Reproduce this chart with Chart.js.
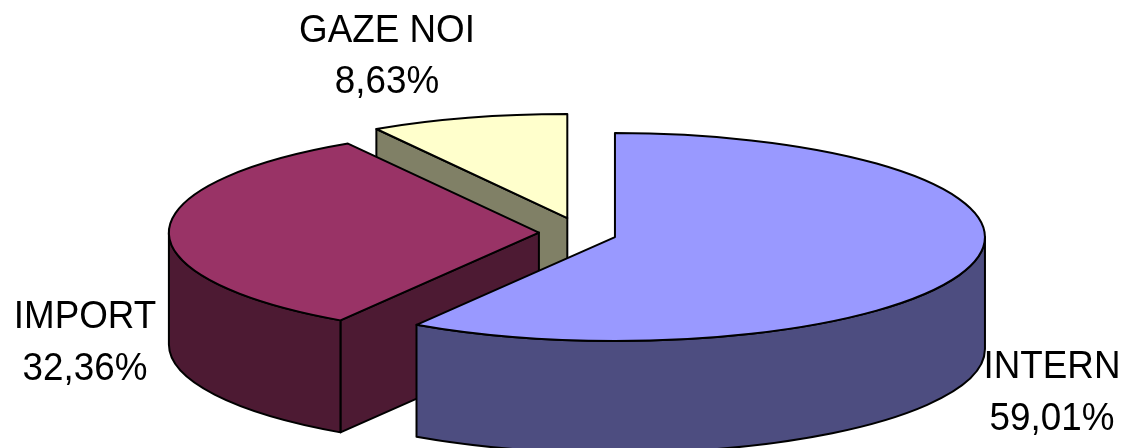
<!DOCTYPE html>
<html>
<head>
<meta charset="utf-8">
<style>
html,body{margin:0;padding:0;background:#fff;}
#wrap{position:relative;width:1123px;height:448px;overflow:hidden;}
</style>
<script src="https://cdn.jsdelivr.net/npm/chart.js@4"></script>
</head>
<body>
<div id="wrap"><canvas id="c"></canvas></div>
<script>
const categories = ['INTERN', 'IMPORT', 'GAZE NOI'];
const shares = [59.01, 32.36, 8.63];
const topColors = ['#9999FF', '#993366', '#FFFFCC'];
const wallColors = ['#4D4D80', '#4D1A33', '#808066'];

const SQUASH = 0.281, EXPLODE = 38.8, EXPLODE_Y = 0.395, DEPTH = 112, RADIUS = 370;
const paintOrder = [2, 1, 0];
const labelSpots = [
  {x: 1052, y1: 378, y2: 430},
  {x: 85,   y1: 328, y2: 380},
  {x: 387,  y1: 42,  y2: 93}
];

function outline(ctx) {
  ctx.strokeStyle = '#000';
  ctx.lineWidth = 2;
  ctx.lineJoin = 'round';
  ctx.stroke();
}

const pie3d = {
  id: 'pie3d',
  beforeDatasetsDraw(chart) {
    const ctx = chart.ctx;
    const meta = chart.getDatasetMeta(0);
    paintOrder.forEach(i => {
      const arc = meta.data[i];
      const {x, y, startAngle: s, endAngle: e, outerRadius: r} =
        arc.getProps(['x', 'y', 'startAngle', 'endAngle', 'outerRadius'], true);
      const mid = (s + e) / 2;
      const ox = x + Math.cos(mid) * EXPLODE;
      const oy = y + Math.sin(mid) * EXPLODE * EXPLODE_Y;
      const ry = r * SQUASH;

      ctx.fillStyle = wallColors[i];
      // cut faces that look toward the viewer
      [[s, s - Math.PI / 2], [e, e + Math.PI / 2]].forEach(([a, normal]) => {
        if (Math.sin(normal) <= 0.001) return;
        const px = ox + r * Math.cos(a), py = oy + ry * Math.sin(a);
        ctx.beginPath();
        ctx.moveTo(ox, oy);
        ctx.lineTo(px, py);
        ctx.lineTo(px, py + DEPTH);
        ctx.lineTo(ox, oy + DEPTH);
        ctx.closePath();
        ctx.fill();
        outline(ctx);
      });
      // outer rim, front half only
      const a0 = Math.max(s, 0), a1 = Math.min(e, Math.PI);
      if (a0 < a1) {
        ctx.beginPath();
        ctx.ellipse(ox, oy, r, ry, 0, a0, a1);
        ctx.ellipse(ox, oy + DEPTH, r, ry, 0, a1, a0, true);
        ctx.closePath();
        ctx.fill();
        outline(ctx);
      }
      // top face: the library's arc, squashed
      ctx.save();
      ctx.translate(ox, oy);
      ctx.scale(1, SQUASH);
      ctx.translate(-x, -y);
      arc.draw(ctx);
      ctx.restore();
      ctx.beginPath();
      ctx.moveTo(ox, oy);
      ctx.ellipse(ox, oy, r, ry, 0, s, e);
      ctx.closePath();
      outline(ctx);
    });
    return false;
  },
  afterDraw(chart) {
    const ctx = chart.ctx;
    ctx.save();
    ctx.fillStyle = '#000';
    ctx.textAlign = 'center';
    ctx.textBaseline = 'alphabetic';
    ctx.font = '36.8px "Liberation Sans", Arial, sans-serif';
    categories.forEach((name, i) => {
      const spot = labelSpots[i];
      const pct = shares[i].toFixed(2).replace('.', ',') + '%';
      [[name, spot.y1], [pct, spot.y2]].forEach(([t, by]) => {
        ctx.save();
        ctx.translate(spot.x, by);
        ctx.scale(1, 1.07);
        ctx.fillText(t, 0, 0);
        ctx.restore();
      });
    });
    ctx.restore();
  }
};

new Chart(document.getElementById('c'), {
  type: 'pie',
  data: {
    labels: categories,
    datasets: [{
      data: shares,
      backgroundColor: topColors,
      borderWidth: 0,
      radius: RADIUS
    }]
  },
  options: {
    responsive: true,
    maintainAspectRatio: false,
    animation: false,
    layout: {padding: {left: 32.4, top: 17.6}},
    plugins: {legend: {display: false}, tooltip: {enabled: false}}
  },
  plugins: [pie3d]
});
</script>
</body>
</html>
